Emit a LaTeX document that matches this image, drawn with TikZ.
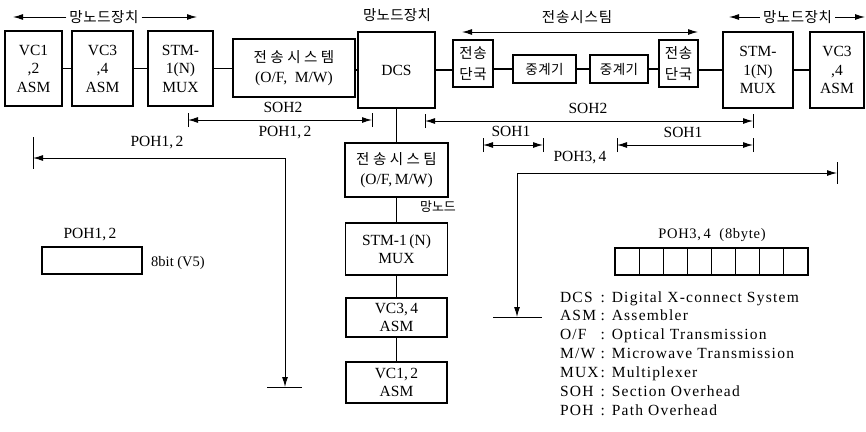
\documentclass[tikz,border=0pt]{standalone}
\usepackage{fontspec}
\setmainfont{Liberation Serif}
\newfontfamily\kr{Noto Sans CJK KR}
\usetikzlibrary{arrows.meta,calc}
\newcommand{\K}[3]{{\kr\fontsize{#1}{#1}\selectfont\addfontfeature{LetterSpace=#2}#3}}
\begin{document}
\begin{tikzpicture}[x=1pt,y=-1pt,
  every node/.style={inner sep=0pt, outer sep=0pt},
  blk/.style={draw, line width=1.1pt, align=center, font=\fontsize{15.5}{18.5}\selectfont},
  ln/.style={line width=1.1pt},
  tip/.style={line width=1pt},
  ah/.style={-{Latex[length=10pt,width=6pt]}},
  both/.style={tip, {Latex[length=10pt,width=6pt]}-{Latex[length=10pt,width=6pt]}},
  lbl/.style={font=\fontsize{15.5}{18}\selectfont},
  small/.style={font=\fontsize{14.5}{17}\selectfont},
]
\useasboundingbox (0,0) rectangle (866,431);

% ---------- top row ----------
\node[blk, minimum width=57pt, minimum height=75pt] (vc12) at (33.5,68.5) {VC1\\,2\\ASM};
\node[blk, minimum width=61pt, minimum height=75pt] (vc34) at (102.5,68.5) {VC3\\,4\\ASM};
\node[blk, minimum width=65pt, minimum height=75pt] (stm) at (180.5,68.5) {STM-\\1(N)\\MUX};
\node[blk, minimum width=122pt, minimum height=58pt] (trs) at (294,68) {\K{14.5}{24}{전송시스템}\\[1pt](O/F,\ \ M/W)};
\node[blk, minimum width=77pt, minimum height=76pt] (dcs) at (396.5,70) {DCS};
\node[blk, minimum width=40pt, minimum height=47pt] (tl) at (473,63.5) {\K{14.5}{4}{전송}\\[3pt]\K{14.5}{4}{단국}};
\node[blk, minimum width=63pt, minimum height=28pt] (rp1) at (544.5,69) {\K{13.5}{3}{중계기}};
\node[blk, minimum width=58pt, minimum height=28pt] (rp2) at (619,69) {\K{13.5}{3}{중계기}};
\node[blk, minimum width=39pt, minimum height=47pt] (tr) at (678.5,63.5) {\K{14.5}{4}{전송}\\[3pt]\K{14.5}{4}{단국}};
\node[blk, minimum width=70pt, minimum height=76pt] (stmr) at (758,70) {STM-\\1(N)\\MUX};
\node[blk, minimum width=54pt, minimum height=76pt] (vcr) at (837,70) {VC3\\,4\\ASM};

\draw[ln] (vc12) -- (vc34);
\draw[ln] (vc34) -- (stm);
\draw[ln] (stm.east) -- (stm.east -| trs.west);
\draw[ln] (trs.east |- dcs) -- (dcs.west);
\draw[ln] (dcs.east) -- (dcs.east -| tl.west);
\draw[ln] (rp1.west -| tl.east) -- (rp1.west);
\draw[ln] (rp1) -- (rp2);
\draw[ln] (rp2.east) -- (rp2.east -| tr.west);
\draw[ln] (tr.east |- stmr) -- (stmr.west);
\draw[ln] (stmr) -- (vcr);

% ---------- top labels ----------
\node (nl) at (104,17) {\K{14.5}{4}{망노드장치}};
\coordinate (nlL) at (13,17);
\coordinate (nlR) at (197,17);
\draw[tip, ah] ([xshift=-3pt]nl.west) -- (nlL);
\draw[tip, ah] ([xshift=3pt]nl.east) -- (nlR);

\node (nd) at (397,15) {\K{14.5}{2}{망노드장치}};

\node (ts) at (577,17) {\K{14.5}{6}{전송시스팀}};
\coordinate (tsL) at (462,32);
\coordinate (tsR) at (698,32);
\draw[both] (tsL) -- (tsR);

\node (nr) at (797.5,17) {\K{14.5}{4}{망노드장치}};
\coordinate (nrL) at (729,17);
\coordinate (nrR) at (865,17);
\draw[tip, ah] ([xshift=-3pt]nr.west) -- (nrL);
\draw[tip, ah] ([xshift=3pt]nr.east) -- (nrR);

% ---------- SOH / POH dimension lines ----------
% SOH2 left
\coordinate (s2a) at (188,120); \coordinate (s2b) at (372,120);
\draw[tip] ([yshift=-7pt]s2a) -- ([yshift=7pt]s2a);
\draw[tip] ([yshift=-7pt]s2b) -- ([yshift=7pt]s2b);
\draw[both] (s2a) -- (s2b);
\node[lbl] (soh2l) at (283,107) {SOH2};
\node[lbl] (poh12a) at (285,133) {POH1,\,2};

% SOH2 right
\coordinate (s2c) at (425,121); \coordinate (s2d) at (753,121);
\draw[tip] ([yshift=-7pt]s2c) -- ([yshift=7pt]s2c);
\draw[tip] ([yshift=-7pt]s2d) -- ([yshift=7pt]s2d);
\draw[both] (s2c) -- (s2d);
\node[lbl] (soh2r) at (588,108) {SOH2};

% SOH1 left
\coordinate (s1a) at (483,145); \coordinate (s1b) at (543,145);
\draw[tip] ([yshift=-7pt]s1a) -- ([yshift=7pt]s1a);
\draw[tip] ([yshift=-7pt]s1b) -- ([yshift=7pt]s1b);
\draw[both] (s1a) -- (s1b);
\node[lbl] (soh1l) at (511,131) {SOH1};

% SOH1 right
\coordinate (s1c) at (617,145); \coordinate (s1d) at (753,145);
\draw[tip] ([yshift=-7pt]s1c) -- ([yshift=7pt]s1c);
\draw[tip] ([yshift=-7pt]s1d) -- ([yshift=7pt]s1d);
\draw[both] (s1c) -- (s1d);
\node[lbl] (soh1r) at (683,132) {SOH1};

% POH1,2 long path
\coordinate (p12a) at (33,158); \coordinate (p12c) at (285,158); \coordinate (p12b) at (285,387);
\draw[tip] (33,137) -- (33,169);
\draw[tip] (267,387) -- (302,387);
\draw[both] (p12a) -- (p12c) -- (p12b);
\node[lbl] (poh12b) at (157,143) {POH1,\,2};

% POH3,4 long path
\coordinate (p34a) at (837,173); \coordinate (p34c) at (517,173); \coordinate (p34b) at (517,317);
\draw[tip] (837,162) -- (837,184);
\draw[tip] (493,317) -- (542,317);
\draw[both] (p34b) -- (p34c) -- (p34a);
\node[lbl] (poh34a) at (580,158) {POH3,\,4};

% ---------- centre column ----------
\node[blk, minimum width=103pt, minimum height=54pt] (cts) at (396.5,170) {\K{14.5}{24}{전송시스팀}\\[1pt](O/F,\,M/W)};
\node[blk, minimum width=102pt, minimum height=52pt] (cstm) at (396.5,249) {STM-1\,(N)\\MUX};
\node[blk, minimum width=101pt, minimum height=39pt] (cvc34) at (396.5,317.5) {VC3,\,4\\ASM};
\node[blk, minimum width=101pt, minimum height=41pt] (cvc12) at (396.5,382.5) {VC1,\,2\\ASM};
\node (cnd) at (438,207) {\K{13}{0}{망노드}};

\draw[ln] (dcs) -- (cts);
\draw[ln] (cts) -- (cstm);
\draw[ln] (cstm) -- (cvc34);
\draw[ln] (cvc34) -- (cvc12);

% ---------- POH boxes ----------
\node[lbl] (poh12c) at (90,235) {POH1,\,2};
\node[draw, line width=1.1pt, minimum width=100pt, minimum height=27pt] (pbox12) at (92,260.5) {};
\node[small] (v5) at (178,263) {8bit (V5)};

\node[small, font=\fontsize{14.5}{17}\selectfont\addfontfeature{LetterSpace=5}] (poh34b) at (712,235) {POH3,\,4\ \ (8byte)};
\node[draw, line width=1.1pt, minimum width=193pt, minimum height=27pt] (pbox34) at (711.5,261.5) {};
\foreach \i in {1,...,7} {
  \draw[line width=1.1pt] ($(pbox34.north west)+(\i*24.125,0)$) -- ($(pbox34.south west)+(\i*24.125,0)$);
}

% ---------- legend ----------
\node[anchor=base west, font=\fontsize{15.5}{18.9}\selectfont\addfontfeature{LetterSpace=8}] (legend) at (560,302) {%
\begin{tabular}[t]{@{}l@{\hspace{2pt}}l@{}}
DCS & : Digital X-connect System\\
ASM & : Assembler\\
O/F & : Optical Transmission\\
M/W & : Microwave Transmission\\
MUX & : Multiplexer\\
SOH & : Section Overhead\\
POH & : Path Overhead
\end{tabular}};
\end{tikzpicture}
\end{document}
